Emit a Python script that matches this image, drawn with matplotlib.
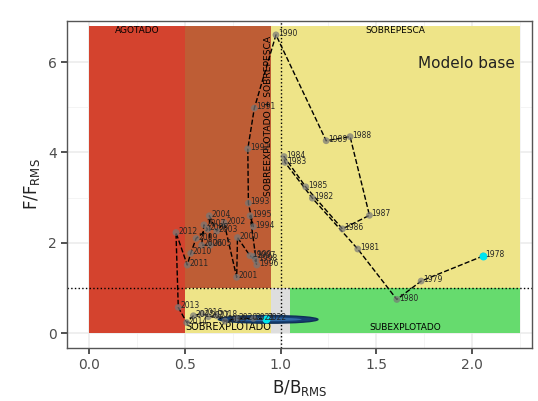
import matplotlib.pyplot as plt
from matplotlib.patches import Rectangle, Ellipse

years = list(range(1978, 2023))
b_brms = [2.057, 1.734, 1.607, 1.403, 1.166, 1.023, 1.018, 1.131, 1.323, 1.464,
          1.363, 1.238, 0.976, 0.863, 0.829, 0.832, 0.858, 0.841, 0.876, 0.860,
          0.870, 0.840, 0.775, 0.771, 0.705, 0.667, 0.628, 0.632, 0.588, 0.600,
          0.620, 0.559, 0.531, 0.513, 0.454, 0.466, 0.510, 0.545, 0.589, 0.623,
          0.667, 0.710, 0.771, 0.858, 0.923]
f_frms = [1.71, 1.157, 0.75, 1.865, 2.99, 3.78, 3.91, 3.24, 2.31, 2.61,
          4.35, 4.26, 6.60, 4.98, 4.08, 2.88, 2.36, 2.60, 1.51, 1.70,
          1.62, 1.72, 2.12, 1.24, 2.45, 2.26, 2.60, 1.95, 1.95, 2.40,
          2.30, 2.10, 1.77, 1.51, 2.23, 0.575, 0.24, 0.39, 0.44, 0.37,
          0.39, 0.27, 0.33, 0.33, 0.316]

# zones: (x0, x1, y0, y1, color)
zones = [
    (0.0, 0.5, 0.0, 6.8, '#D4432E'),
    (0.5, 0.95, 1.0, 6.8, '#BE5D35'),
    (0.95, 2.25, 1.0, 6.8, '#EEE488'),
    (0.5, 0.95, 0.0, 1.0, '#EEE488'),
    (0.95, 1.05, 0.0, 1.0, '#DEDEDE'),
    (1.05, 2.25, 0.0, 1.0, '#66DB6E'),
]

fig = plt.figure(figsize=(5.38, 4.01), dpi=100)
ax = fig.add_axes([0.1245, 0.132, 0.8645, 0.816])

for x0, x1, y0, y1, c in zones:
    ax.add_patch(Rectangle((x0, y0), x1 - x0, y1 - y0, facecolor=c, edgecolor='none', zorder=1))

ax.axhline(1, color='black', linestyle=':', linewidth=1, zorder=2)
ax.axvline(1, color='black', linestyle=':', linewidth=1, zorder=2)

ax.text(0.25, 6.69, 'AGOTADO', ha='center', va='center', fontsize=6.5, zorder=3)
ax.text(1.6, 6.69, 'SOBREPESCA', ha='center', va='center', fontsize=6.5, zorder=3)
ax.text(0.935, 4.8, 'SOBREEXPLOTADO + SOBREPESCA', rotation=90, ha='center', va='center', fontsize=6.6, zorder=3)
ax.text(0.725, 0.13, 'SOBREXPLOTADO', ha='center', va='center', fontsize=7, zorder=3)
ax.text(1.65, 0.13, 'SUBEXPLOTADO', ha='center', va='center', fontsize=6.5, zorder=3)
ax.text(1.97, 5.97, 'Modelo base', ha='center', va='center', fontsize=11, color='#222222', zorder=3)

# confidence ellipse around the last year
ax.add_patch(Ellipse((0.935, 0.31), 0.52, 0.17, angle=-0.5, facecolor='#163F73',
                     edgecolor='#0F2F57', linewidth=1, zorder=4))
ax.add_patch(Ellipse((0.93, 0.31), 0.36, 0.08, angle=-0.5, facecolor='#3A74B3',
                     edgecolor='none', alpha=0.8, zorder=4))

ax.plot(b_brms, f_frms, color='black', linestyle='--', linewidth=1, zorder=5)
ax.scatter(b_brms, f_frms, s=24, color='#777777', alpha=0.7, edgecolor='none', zorder=6)
ax.scatter([b_brms[0], b_brms[-1]], [f_frms[0], f_frms[-1]], s=22, color='#00E5EE', zorder=7)

for yr, xv, yv in zip(years, b_brms, f_frms):
    ax.annotate(str(yr), (xv, yv), xytext=(1.5, 1), textcoords='offset points',
                fontsize=5.5, color='#262626', ha='left', va='center', zorder=8)

ax.set_xlim(-0.115, 2.313)
ax.set_ylim(-0.325, 6.91)
ax.set_xticks([0, 0.5, 1.0, 1.5, 2.0])
ax.set_xticklabels(['0.0', '0.5', '1.0', '1.5', '2.0'])
ax.set_yticks([0, 2, 4, 6])
ax.set_xticks([0.25, 0.75, 1.25, 1.75, 2.25], minor=True)
ax.set_yticks([1, 3, 5], minor=True)
ax.grid(True, which='major', color='#EBEBEB', linewidth=1.1, zorder=0)
ax.grid(True, which='minor', color='#F3F3F3', linewidth=0.6, zorder=0)
ax.set_axisbelow(True)
ax.tick_params(which='major', length=4, width=1.2, color='#333333', labelsize=10, labelcolor='#4D4D4D')
ax.tick_params(which='minor', length=0)
for s in ax.spines.values():
    s.set_color('#555555')
    s.set_linewidth(1)

ax.set_xlabel('B/B$_{\\mathregular{RMS}}$', fontsize=12, color='#222222')
ax.set_ylabel('F/F$_{\\mathregular{RMS}}$', fontsize=12, color='#222222')

fig.savefig('out.png', dpi=100)
